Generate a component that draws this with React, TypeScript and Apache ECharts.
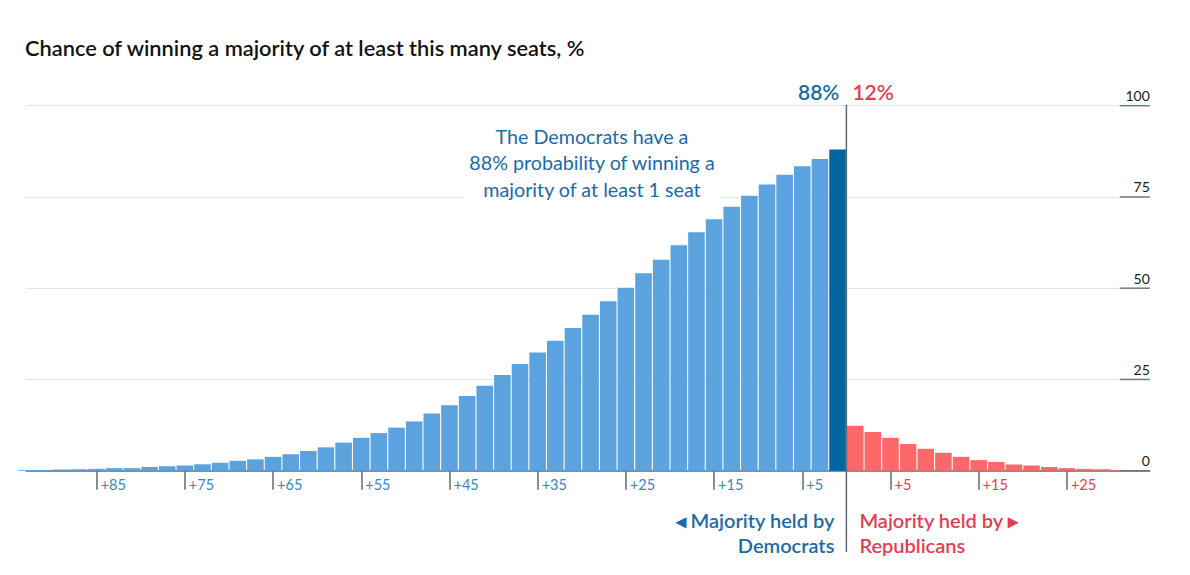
import React, { useEffect, useRef } from "react";
import * as echarts from "echarts";

// Seat margins (bar centres) and chance (%) of winning a majority of at least that many seats
const demSeats = [1, 3, 5, 7, 9, 11, 13, 15, 17, 19, 21, 23, 25, 27, 29, 31, 33, 35, 37, 39, 41, 43, 45, 47, 49, 51, 53, 55, 57, 59, 61, 63, 65, 67, 69, 71, 73, 75, 77, 79, 81, 83, 85, 87, 89, 91, 93];
const demValues = [88, 85.4, 83.4, 81.1, 78.4, 75.3, 72.3, 68.9, 65.3, 61.8, 57.8, 54.1, 50.1, 46.4, 42.7, 39.1, 35.6, 32.4, 29.2, 26.2, 23.3, 20.5, 17.9, 15.7, 13.5, 11.8, 10.3, 9.0, 7.7, 6.4, 5.4, 4.5, 3.8, 3.1, 2.7, 2.2, 1.8, 1.4, 1.2, 1.0, 0.7, 0.7, 0.5, 0.4, 0.3, 0.2, 0.2];
const repSeats = [1, 3, 5, 7, 9, 11, 13, 15, 17, 19, 21, 23, 25, 27, 29, 31];
const repValues = [12.3, 10.6, 9.0, 7.3, 6.0, 4.9, 3.8, 2.9, 2.4, 1.7, 1.4, 1.0, 0.7, 0.5, 0.4, 0.2];
const highlightSeat = 1;
const demTicks = [85, 75, 65, 55, 45, 35, 25, 15, 5];
const repTicks = [5, 15, 25];
const yTicks = [0, 25, 50, 75, 100];

const demProb = "88%";
const repProb = "12%";
const title = "Chance of winning a majority of at least this many seats, %";
const annotation = "The Democrats have a\n88% probability of winning a\nmajority of at least 1 seat";

const BLUE_BAR = "#5ba3de";
const BLUE_DARK = "#0065a0";
const RED_BAR = "#ff6868";
const BLUE_TEXT = "#1a6ba6";
const RED_TEXT = "#e2404f";
const AXIS = "#5d6a74";
const FONT = "Lato, 'Open Sans', sans-serif";

export default function App() {
  const ref = useRef<HTMLDivElement>(null);
  useEffect(() => {
    if (!ref.current) return;
    const chart = echarts.init(ref.current, null, { renderer: "svg" });
    const data: any[] = [];
    demSeats.forEach((s, i) => {
      data.push({
        value: [-s, demValues[i]],
        itemStyle: { color: s === highlightSeat ? BLUE_DARK : BLUE_BAR },
      });
    });
    repSeats.forEach((s, i) => {
      data.push({ value: [s, repValues[i]], itemStyle: { color: RED_BAR } });
    });
    const tickVals = [...demTicks.map((t) => -t), ...repTicks];
    chart.setOption({
      animation: false,
      textStyle: { fontFamily: FONT },
      grid: { left: 26.1, right: 40.2, top: 105.7, bottom: 104.3, containLabel: false },
      xAxis: {
        type: "value",
        min: -93,
        max: 34.4,
        splitLine: { show: false },
        axisLine: { show: true, onZero: false, lineStyle: { color: AXIS, width: 1.5 } },
        axisTick: {
          show: true,
          customValues: tickVals,
          length: 19,
          lineStyle: { color: AXIS, width: 1.5 },
        },
        axisLabel: {
          show: true,
          customValues: tickVals,
          margin: 6,
          align: "left",
          padding: [0, 0, 0, 4],
          fontSize: 14.5,
          fontFamily: FONT,
          formatter: (v: number) => (v < 0 ? `{d|+${Math.abs(v)}}` : `{r|+${v}}`),
          rich: {
            d: { color: "#3c85c4", fontSize: 14.5, fontFamily: FONT },
            r: { color: RED_TEXT, fontSize: 14.5, fontFamily: FONT },
          },
        },
      },
      yAxis: {
        type: "value",
        position: "right",
        min: 0,
        max: 100,
        interval: 25,
        axisLine: { show: false },
        axisTick: { show: false },
        splitLine: { show: true, lineStyle: { color: "#dfe5ea", width: 1 } },
        axisLabel: {
          show: true,
          inside: true,
          margin: 0,
          verticalAlign: "bottom",
          padding: [0, 0, 3, 0],
          fontSize: 14,
          color: "#1a1a1a",
          fontFamily: FONT,
          customValues: yTicks,
        },
      },
      series: [
        {
          type: "bar",
          data,
          barWidth: "94%",
          clip: true,
          itemStyle: { borderWidth: 0 },
        },
      ],
    });

    const zeroX = chart.convertToPixel({ xAxisIndex: 0 }, 0) as number;
    const rightX = chart.convertToPixel({ xAxisIndex: 0 }, 34.4) as number;
    const topY = chart.convertToPixel({ yAxisIndex: 0 }, 100) as number;
    const tickSegs = yTicks.map((t) => {
      const y = chart.convertToPixel({ yAxisIndex: 0 }, t) as number;
      return {
        type: "line",
        shape: { x1: rightX - 30, y1: y, x2: rightX, y2: y },
        style: { stroke: "#6f7b84", lineWidth: 1.5 },
        z: 90,
      };
    });
    chart.setOption({
      graphic: [
        ...tickSegs,
        {
          type: "line",
          shape: { x1: zeroX, y1: topY - 1, x2: zeroX, y2: 552 },
          style: { stroke: AXIS, lineWidth: 1.5 },
          z: 100,
        },
        {
          type: "text",
          style: {
            text: title,
            x: 25,
            y: 47,
            fill: "#121212",
            font: `600 21.8px ${FONT}`,
            align: "left",
            verticalAlign: "middle",
          },
        },
        {
          type: "text",
          style: {
            text: demProb,
            x: zeroX - 7,
            y: 91,
            fill: BLUE_TEXT,
            font: `600 21px ${FONT}`,
            align: "right",
            verticalAlign: "middle",
          },
        },
        {
          type: "text",
          style: {
            text: repProb,
            x: zeroX + 6,
            y: 91,
            fill: RED_TEXT,
            font: `600 21px ${FONT}`,
            align: "left",
            verticalAlign: "middle",
          },
        },
        {
          type: "text",
          z: 50,
          style: {
            text: annotation,
            x: 592,
            y: 123,
            fill: BLUE_TEXT,
            font: `400 19.7px ${FONT}`,
            lineHeight: 26.5,
            align: "center",
            verticalAlign: "top",
            backgroundColor: "#ffffff",
            padding: [0, 6, 2, 6],
          },
        },
        {
          type: "text",
          style: {
            text: "◂ Majority held by\nDemocrats",
            x: zeroX - 12,
            y: 507,
            fill: BLUE_TEXT,
            font: `600 20px ${FONT}`,
            lineHeight: 25.5,
            align: "right",
            verticalAlign: "top",
          },
        },
        {
          type: "text",
          style: {
            text: "Majority held by ▸\nRepublicans",
            x: zeroX + 13,
            y: 507,
            fill: RED_TEXT,
            font: `600 20px ${FONT}`,
            lineHeight: 25.5,
            align: "left",
            verticalAlign: "top",
          },
        },
      ],
    });
    return () => chart.dispose();
  }, []);
  return (
    <div
      ref={ref}
      style={{ position: "fixed", left: 0, top: 0, width: 1190, height: 575, background: "#fff" }}
    />
  );
}
